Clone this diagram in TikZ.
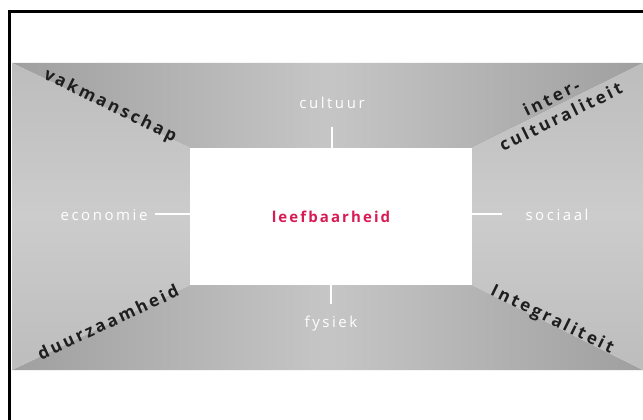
\documentclass[tikz,border=0pt]{standalone}
\usepackage{fontspec}
\setmainfont{Open Sans}
\newfontfamily\labfont[LetterSpace=17]{Open Sans}
\newfontfamily\corefont[LetterSpace=14]{Open Sans Bold}
\newfontfamily\diafont[LetterSpace=16]{Open Sans Bold}
\usetikzlibrary{positioning}
\definecolor{pinkred}{HTML}{D81B55}
\definecolor{textdark}{HTML}{1E1E1E}
\tikzset{
  whitelab/.style={text=white, font=\labfont\fontsize{15}{17}\selectfont, inner sep=1pt},
  dialab/.style={text=textdark, font=\diafont\fontsize{17}{21}\selectfont, inner sep=0pt},
  tick/.style={draw=white, line width=1.2pt},
}
\begin{document}
\begin{tikzpicture}[x=1pt,y=-1pt]
\useasboundingbox (0,0) rectangle (643,420);
\fill[white] (0,0) rectangle (643,420);
% frame
\draw[line width=3pt] (9.5,430) -- (9.5,11.5) -- (650,11.5);
% panels
\shade[left color=gray!75!white, right color=gray!75!white, middle color=gray!45!white]
  (12,63) -- (643,63) -- (472,148) -- (190,148) -- cycle;
\shade[left color=gray!75!white, right color=gray!75!white, middle color=gray!45!white]
  (12,370) -- (643,370) -- (472,285) -- (190,285) -- cycle;
\shade[top color=gray!52!white, bottom color=gray!52!white, middle color=gray!40!white]
  (12,63) -- (190,148) -- (190,285) -- (12,370) -- cycle;
\shade[top color=gray!52!white, bottom color=gray!52!white, middle color=gray!40!white]
  (643,63) -- (472,148) -- (472,285) -- (643,370) -- cycle;
% core
\node[fill=white, minimum width=282pt, minimum height=137pt, inner sep=0pt] (core) at (331,216.5) {};
\node[text=pinkred, font=\corefont\fontsize{15}{15}\selectfont] (leef) at (core.center) {leefbaarheid};
% white labels
\node[whitelab] (cult) at (332,103) {cultuur};
\node[whitelab] (econ) at (104,215) {economie};
\node[whitelab] (soc) at (557,215) {sociaal};
\node[whitelab] (fys) at (331,324) {fysiek};
\coordinate (cultend) at (332,127);
\coordinate (econend) at (155,214);
\coordinate (socend) at (502,214);
\coordinate (fysend) at (331,304);
\draw[tick] (cultend) -- (core.north -| cultend);
\draw[tick] (econend) -- (core.west |- econend);
\draw[tick] (socend) -- (core.east |- socend);
\draw[tick] (fysend) -- (core.south -| fysend);
% diagonal labels
\node[dialab, rotate=-26] (vak) at (110,106) {vakmanschap};
\node[dialab, rotate=26, align=center] (inter) at (556,107) {inter-\\culturaliteit};
\node[dialab, rotate=25] (duur) at (108,322) {duurzaamheid};
\node[dialab, rotate=-26] (integ) at (552,320) {Integraliteit};
\end{tikzpicture}
\end{document}
